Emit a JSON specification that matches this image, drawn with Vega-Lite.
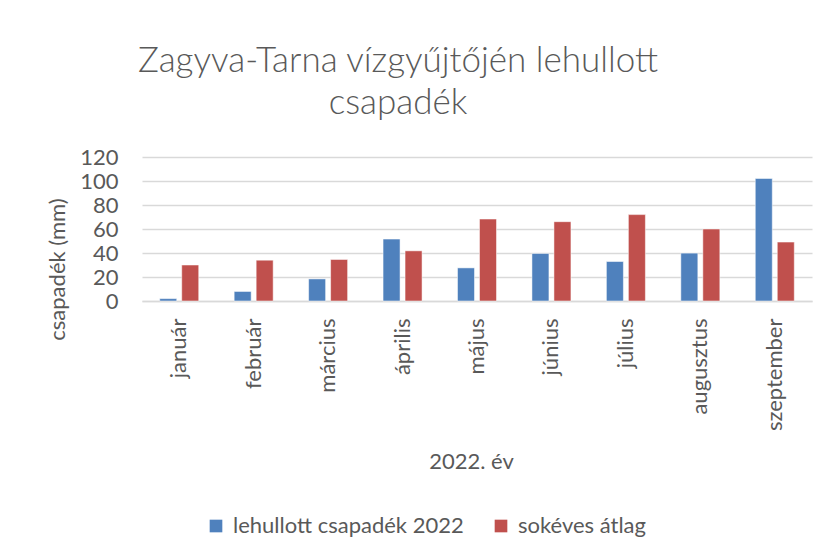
{
  "$schema": "https://vega.github.io/schema/vega-lite/v6.json",
  "width": 670,
  "height": 144,
  "autosize": {"type": "none"},
  "padding": {"left": 142, "top": 157, "right": 20, "bottom": 259},
  "background": "white",
  "config": {
    "font": "Lato",
    "view": {"stroke": null}
  },
  "title": {
    "text": ["Zagyva-Tarna vízgyűjtőjén lehullott", "csapadék"],
    "font": "Lato",
    "fontSize": 35,
    "fontWeight": 300,
    "color": "#595959",
    "anchor": "middle",
    "dx": -79,
    "lineHeight": 42,
    "offset": 25
  },
  "data": {
    "values": [
      {"honap": "január", "sorozat": "lehullott csapadék 2022", "ertek": 2},
      {"honap": "január", "sorozat": "sokéves átlag", "ertek": 30},
      {"honap": "február", "sorozat": "lehullott csapadék 2022", "ertek": 8},
      {"honap": "február", "sorozat": "sokéves átlag", "ertek": 34},
      {"honap": "március", "sorozat": "lehullott csapadék 2022", "ertek": 18.4},
      {"honap": "március", "sorozat": "sokéves átlag", "ertek": 34.6},
      {"honap": "április", "sorozat": "lehullott csapadék 2022", "ertek": 51.6},
      {"honap": "április", "sorozat": "sokéves átlag", "ertek": 41.8},
      {"honap": "május", "sorozat": "lehullott csapadék 2022", "ertek": 27.6},
      {"honap": "május", "sorozat": "sokéves átlag", "ertek": 68.3},
      {"honap": "június", "sorozat": "lehullott csapadék 2022", "ertek": 39.6},
      {"honap": "június", "sorozat": "sokéves átlag", "ertek": 66.1},
      {"honap": "július", "sorozat": "lehullott csapadék 2022", "ertek": 32.9},
      {"honap": "július", "sorozat": "sokéves átlag", "ertek": 72},
      {"honap": "augusztus", "sorozat": "lehullott csapadék 2022", "ertek": 39.9},
      {"honap": "augusztus", "sorozat": "sokéves átlag", "ertek": 60},
      {"honap": "szeptember", "sorozat": "lehullott csapadék 2022", "ertek": 102.1},
      {"honap": "szeptember", "sorozat": "sokéves átlag", "ertek": 49.1}
    ]
  },
  "mark": {"type": "bar", "stroke": "white", "strokeOpacity": 0.5, "strokeWidth": 1},
  "encoding": {
    "x": {
      "field": "honap",
      "type": "nominal",
      "sort": ["január", "február", "március", "április", "május", "június", "július", "augusztus", "szeptember"],
      "scale": {"paddingInner": 0.476, "paddingOuter": 0.238},
      "axis": {
        "labelAngle": -90,
        "labelFontSize": 22,
        "labelColor": "#595959",
        "labelPadding": 17,
        "ticks": false,
        "domainColor": "#D9D9D9",
        "domainWidth": 1.5,
        "title": "2022. év",
        "titleFontSize": 22,
        "titleFontWeight": "normal",
        "titleColor": "#595959",
        "titleX": 329,
        "titleY": 167,
        "titleBaseline": "alphabetic",
        "titleAnchor": null,
        "titleAlign": "center"
      }
    },
    "xOffset": {
      "field": "sorozat",
      "type": "nominal",
      "sort": ["lehullott csapadék 2022", "sokéves átlag"],
      "scale": {"paddingInner": 0.227, "paddingOuter": 0}
    },
    "y": {
      "field": "ertek",
      "type": "quantitative",
      "scale": {"domain": [0, 120], "nice": false},
      "axis": {
        "values": [0, 20, 40, 60, 80, 100, 120],
        "labelFontSize": 22,
        "labelColor": "#595959",
        "labelPadding": 24,
        "ticks": false,
        "domain": false,
        "gridColor": "#D9D9D9",
        "gridWidth": 1.5,
        "title": "csapadék (mm)",
        "titleFontSize": 22,
        "titleFontWeight": "normal",
        "titleColor": "#595959",
        "titleX": -78,
        "titleY": 112,
        "titleAnchor": null,
        "titleAlign": "center",
        "titleBaseline": "alphabetic"
      }
    },
    "color": {
      "field": "sorozat",
      "type": "nominal",
      "scale": {"domain": ["lehullott csapadék 2022", "sokéves átlag"], "range": ["#4F81BD", "#C0504D"]},
      "legend": {
        "title": null,
        "orient": "none",
        "direction": "horizontal",
        "legendX": 63,
        "legendY": 358,
        "symbolType": "square",
        "symbolSize": 160,
        "symbolStrokeWidth": 0,
        "labelFontSize": 22,
        "labelColor": "#595959",
        "labelOffset": 6,
        "columnPadding": 26,
        "labelLimit": 400
      }
    }
  }
}
